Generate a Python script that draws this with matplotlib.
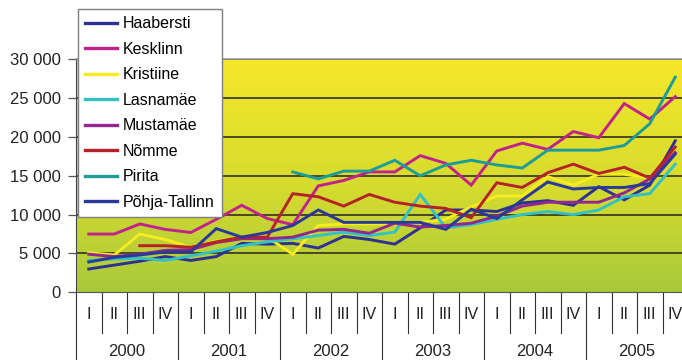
import numpy as np
import matplotlib
matplotlib.use("Agg")
import matplotlib.pyplot as plt
import matplotlib.transforms as mtransforms
from matplotlib.colors import LinearSegmentedColormap
from matplotlib.ticker import FuncFormatter

plt.rcParams['font.family'] = ['Liberation Sans', 'DejaVu Sans']

nan = np.nan
years = ['2000', '2001', '2002', '2003', '2004', '2005']
quarters = ['I', 'II', 'III', 'IV']

# average price per quarter, 2000 I .. 2005 IV
haabersti = [3000, 3500, 4000, 4600, 4100, 4600, 6300, 6200, 6300, 5700, 7200, 6800,
             6200, 8300, 10600, 10600, 10400, 11500, 11800, 11200, 13600, 11900, 13800, 19500]
kesklinn = [7500, 7500, 8800, 8100, 7700, 9400, 11200, 9500, 8700, 13700, 14400, 15500,
            15500, 17600, 16600, 13800, 18200, 19200, 18400, 20700, 19900, 24300, 22300, 25200]
kristiine = [5100, 4800, 7500, 6800, 5800, 6600, 7000, 7100, 4900, 8600, 8800, 8800,
             8800, 9000, 9400, 11000, 12400, 12400, 14900, 13800, 15200, 15200, 14700, 18200]
lasnamae = [4100, 4300, 4400, 4100, 4700, 5300, 6000, 6500, 6900, 7300, 7750, 7300,
            7750, 12600, 8300, 8700, 9400, 10000, 10400, 10000, 10600, 12300, 12700, 16500]
mustamae = [4900, 4600, 4900, 5400, 5500, 6400, 6900, 6900, 7100, 8000, 8100, 7600,
            8900, 8400, 8600, 8900, 9800, 11100, 11600, 11600, 11600, 12800, 14600, 18000]
nomme = [nan, nan, 6000, 6000, 5800, 6500, 7100, 7100, 12700, 12300, 11100, 12600,
         11600, 11100, 10800, 9600, 14100, 13500, 15400, 16500, 15300, 16100, 14700, 18700]
pirita = [nan, nan, nan, nan, nan, nan, nan, nan, 15500, 14600, 15600, 15600,
          17000, 15000, 16400, 17000, 16400, 16000, 18300, 18300, 18300, 18900, 21700, 27700]
pohja_tallinn = [3900, 4500, 4800, 5200, 5200, 8200, 7100, 7700, 8600, 10600, 9000, 9000,
                 9000, 9000, 8100, 10700, 9500, 11900, 14200, 13300, 13500, 13500, 14000, 17800]

series = [
    ('Haabersti', haabersti, '#2E3192'),
    ('Kesklinn', kesklinn, '#C2228C'),
    ('Kristiine', kristiine, '#F7EC1E'),
    ('Lasnamäe', lasnamae, '#33C2C4'),
    ('Mustamäe', mustamae, '#92278F'),
    ('Nõmme', nomme, '#B5232A'),
    ('Pirita', pirita, '#1E9C98'),
    ('Põhja-Tallinn', pohja_tallinn, '#2B3A9A'),
]

n = len(years) * len(quarters)
x = np.arange(n)

fig = plt.figure(figsize=(6.82, 3.6), dpi=100)
ax = fig.add_axes([76 / 682, 67.7 / 360, 612 / 682, 233 / 360])

# yellow-to-green gradient behind the plot
cmap = LinearSegmentedColormap.from_list(
    'bg', [(0.0, '#A8C93C'), (0.45, '#D6DB2E'), (1.0, '#F6E72A')])
grad = np.linspace(0, 1, 256).reshape(-1, 1)
ax.imshow(grad, extent=[-0.5, n - 0.5, 0, 30000], origin='lower',
          aspect='auto', cmap=cmap, zorder=0)

yticks = np.arange(0, 30001, 5000)
for yv in yticks[1:]:
    ax.axhline(yv, color='#3f3d22', lw=1.3, zorder=1)

for name, vals, col in series:
    ax.plot(x, vals, color=col, lw=2.1, label=name, zorder=3,
            solid_joinstyle='miter')

ax.set_xlim(-0.5, n - 0.5)
ax.set_ylim(0, 30000)
ax.set_yticks(yticks)
ax.yaxis.set_major_formatter(FuncFormatter(lambda v, p: f'{int(v):,}'.replace(',', ' ')))
ax.tick_params(axis='y', length=6, width=0.9, color='#555555', labelsize=12,
               labelcolor='#222222', pad=5)
ax.set_xticks([])

for side in ['top', 'right']:
    ax.spines[side].set_color('#999999')
    ax.spines[side].set_linewidth(1.2)
ax.spines['left'].set_color('#444444')
ax.spines['bottom'].set_color('#555555')

# quarter / year category boxes under the plot
trans = mtransforms.blended_transform_factory(ax.transData, ax.transAxes)
for i in range(n + 1):
    b = i - 0.5
    low = -0.295 if i % 4 == 0 else -0.175
    ax.plot([b, b], [0, low], transform=trans, clip_on=False,
            color='#333333', lw=0.8)
for i in range(n):
    ax.text(i, -0.095, quarters[i % 4], transform=trans, ha='center',
            va='center', fontsize=11.5, color='#222222')
for k, yr in enumerate(years):
    ax.text(4 * k + 1.5, -0.252, yr, transform=trans, ha='center',
            va='center', fontsize=12, color='#222222')

leg = fig.legend(loc='upper left', bbox_to_anchor=(78 / 682, 1 - 9 / 360),
                 borderaxespad=0, frameon=True, fancybox=False, framealpha=1,
                 facecolor='white', edgecolor='#7f7f7f', fontsize=11.5,
                 handlelength=2.0, handletextpad=0.35, labelspacing=0.66,
                 borderpad=0.45)
leg.get_frame().set_linewidth(1.0)
for h in leg.get_lines():
    h.set_linewidth(2.4)

fig.savefig('out.png', dpi=100)
